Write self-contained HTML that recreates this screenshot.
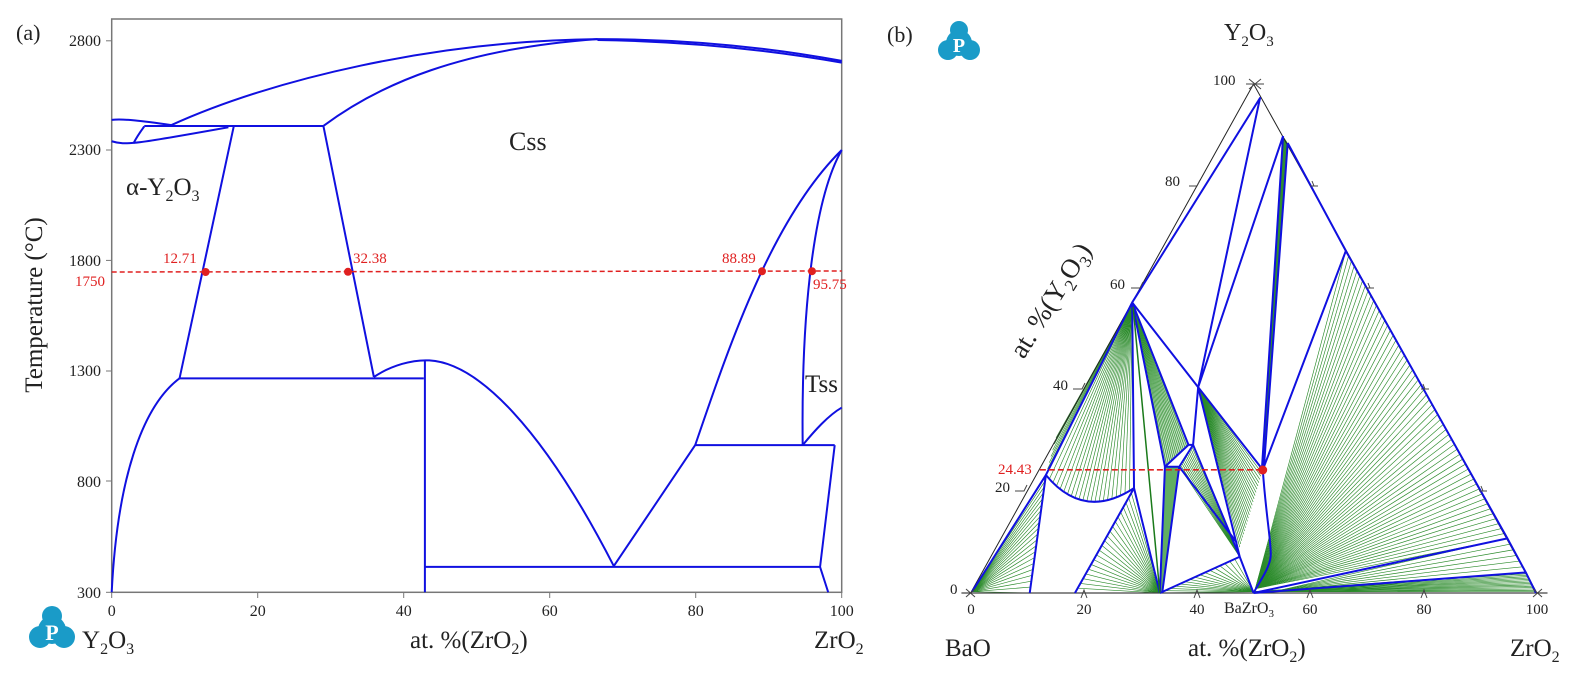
<!DOCTYPE html>
<html><head><meta charset="utf-8"><style>
html,body{margin:0;padding:0;background:#fff}
svg{display:block}
text{font-family:"Liberation Serif",serif}
.b{fill:none;stroke:#1010e0;stroke-width:2;vector-effect:non-scaling-stroke;stroke-linejoin:round}
.g{stroke:#2a8a2a;stroke-width:0.65;vector-effect:non-scaling-stroke}
</style></head><body>
<svg id="s" width="1590" height="686" viewBox="0 0 1590 686" xmlns="http://www.w3.org/2000/svg">
<!-- Panel (a) -->
<rect x="111.7" y="19" width="730" height="573.3" fill="none" stroke="#777" stroke-width="1.5"/>
<g stroke="#777" stroke-width="1">
<line x1="106" y1="40.8" x2="111.7" y2="40.8"/><line x1="106" y1="150" x2="111.7" y2="150"/>
<line x1="106" y1="260.4" x2="111.7" y2="260.4"/><line x1="106" y1="371" x2="111.7" y2="371"/>
<line x1="106" y1="481" x2="111.7" y2="481"/><line x1="106" y1="592.3" x2="111.7" y2="592.3"/>
<line x1="111.7" y1="592" x2="111.7" y2="598"/><line x1="257.7" y1="592" x2="257.7" y2="598"/>
<line x1="403.7" y1="592" x2="403.7" y2="598"/><line x1="549.7" y1="592" x2="549.7" y2="598"/>
<line x1="695.7" y1="592" x2="695.7" y2="598"/><line x1="841.7" y1="592" x2="841.7" y2="598"/>
</g>
<g font-size="16" fill="#222" text-anchor="end">
<text x="101" y="46">2800</text><text x="101" y="155">2300</text><text x="101" y="266">1800</text>
<text x="101" y="376">1300</text><text x="101" y="487">800</text><text x="101" y="598">300</text>
</g>
<g font-size="16" fill="#222" text-anchor="middle">
<text x="111.7" y="616">0</text><text x="257.7" y="616">20</text><text x="403.7" y="616">40</text>
<text x="549.7" y="616">60</text><text x="695.7" y="616">80</text><text x="841.7" y="616">100</text>
</g>
<g transform="matrix(0.5428 0 0 0.4366 0.43 0.66)">
<path class="b" d="M205,273 C225,270 260,275 315,285"/>
<path class="b" d="M205,322 C230,332 250,328 420,290"/>
<path class="b" d="M265,288 Q252,310 245,327"/>
<path class="b" d="M265,287 L595,287"/>
<path class="b" d="M315,285 C500,180 800,92 1100,88 C1300,88 1450,115 1550,138"/>
<path class="b" d="M595,287 C700,190 850,110 1100,88 M1100,90 C1300,94 1450,120 1550,142"/>
<path class="b" d="M430,287 L330,865 M595,287 L688,862 M330,865 L780,865"/>
<path class="b" d="M205,1355 C215,1100 260,930 330,865"/>
<path class="b" d="M782,825 L782,1355"/>
<path class="b" d="M688,862 C720,835 760,822 790,824 C880,830 1000,980 1130,1295 L1280,1018"/>
<path class="b" d="M782,1297 L1510,1297 M1510,1297 L1525,1355 M1510,1297 L1537,1018 M1280,1018 L1537,1018"/>
<path class="b" d="M1280,1018 C1340,800 1420,500 1550,342"/>
<path class="b" d="M1478,1018 C1475,700 1500,450 1550,342"/>
<path class="b" d="M1478,1018 C1500,985 1525,950 1550,932"/>
</g>
<line x1="111.7" y1="272" x2="841.7" y2="271" stroke="#e02020" stroke-width="1.5" stroke-dasharray="5,3"/>
<g fill="#e02020"><circle cx="205.6" cy="272" r="4"/><circle cx="348" cy="271.8" r="4"/><circle cx="762" cy="271.3" r="4"/><circle cx="812" cy="271.2" r="4"/></g>
<g font-size="15" fill="#e02020">
<text x="163" y="263">12.71</text><text x="353" y="263">32.38</text><text x="722" y="263">88.89</text>
<text x="813" y="289">95.75</text><text x="75" y="286">1750</text>
</g>
<text x="16" y="40" font-size="22" fill="#222">(a)</text>
<text transform="translate(42,305) rotate(-90)" font-size="25" fill="#222" text-anchor="middle">Temperature (°C)</text>
<text x="509" y="150" font-size="26" fill="#222">Css</text>
<text x="126" y="195" font-size="25" fill="#222">α-Y<tspan font-size="16" dy="6">2</tspan><tspan dy="-6">O</tspan><tspan font-size="16" dy="6">3</tspan></text>
<text x="805" y="392" font-size="25" fill="#222">Tss</text>
<text x="82" y="648" font-size="25" fill="#222">Y<tspan font-size="16" dy="6">2</tspan><tspan dy="-6">O</tspan><tspan font-size="16" dy="6">3</tspan></text>
<text x="410" y="648" font-size="25" fill="#222">at. %(ZrO<tspan font-size="16" dy="6">2</tspan><tspan dy="-6">)</tspan></text>
<text x="814" y="648" font-size="25" fill="#222">ZrO<tspan font-size="16" dy="6">2</tspan></text>
<!-- logos -->
<g fill="#1a9bc8">
<circle cx="52" cy="616" r="10"/><circle cx="40" cy="637" r="11"/><circle cx="64" cy="637" r="11"/><circle cx="52" cy="630" r="14"/>
<circle cx="959" cy="30" r="9"/><circle cx="948" cy="50" r="10"/><circle cx="970" cy="50" r="10"/><circle cx="959" cy="43" r="13"/>
</g>
<text x="52" y="640" font-size="22" font-weight="bold" fill="#fff" text-anchor="middle">P</text>
<text x="959" y="52" font-size="20" font-weight="bold" fill="#fff" text-anchor="middle">P</text>

<!-- Panel (b) -->
<text x="887" y="42" font-size="22" fill="#222">(b)</text>
<text x="1224" y="40" font-size="24" fill="#222">Y<tspan font-size="15" dy="6">2</tspan><tspan dy="-6">O</tspan><tspan font-size="15" dy="6">3</tspan></text>
<g id="tern" transform="matrix(0.4615 0 0 0.4369 862.2 1.0)">
<g id="fans"></g>
<polygon points="656,1066 687,1066 650,1355 645,1355" fill="#3a9a3a" opacity="0.8"/>
<polygon points="912,309 922,325 870,1073 866,1073" fill="#2f8f2f"/>
<polygon points="707,1016 587,700 656,1066" fill="#3a9a3a" opacity="0.3"/>
<path d="M235,1355 L848,190 L1462,1355 Z" fill="none" stroke="#222" stroke-width="1" vector-effect="non-scaling-stroke"/>
<line x1="215" y1="1355" x2="1485" y2="1355" stroke="#444" stroke-width="1.2" vector-effect="non-scaling-stroke"/>
<path class="b" d="M585,690 L862,222 L728,884 M912,309 L728,884 M912,309 L866,1073 M922,325 L870,1073"/>
<path class="b" d="M922,325 L1048,572 L1398,1230 L1438,1308 L1460,1355"/>
<path class="b" d="M1048,572 L868,1073 M585,690 L728,884 L868,1073"/>
<path class="b" d="M585,690 L707,1016 M585,690 L656,1066 M585,690 L589,1115 L645,1355 M585,690 L398,1085"/>
<path class="b" d="M238,1352 L398,1085 L363,1355 M398,1085 Q480,1190 589,1115 M461,1355 L589,1115"/>
<path class="b" d="M728,884 L717,1016 L707,1016 L656,1066 L687,1066 L717,1016 L818,1272 M687,1066 L650,1355 M656,1066 L645,1355 M687,1066 L812,1240"/>
<path class="b" d="M728,884 L818,1272 M645,1355 L818,1272 L848,1355"/>
<path class="b" d="M868,1073 C875,1180 888,1250 885,1272 C882,1300 860,1330 848,1355"/>
<path class="b" d="M848,1355 L1398,1230 M848,1355 L1438,1308"/>
<path d="M587,700 L645,1355" stroke="#1a7a1a" stroke-width="1.5" vector-effect="non-scaling-stroke"/>
<line x1="385" y1="1073" x2="868" y2="1073" stroke="#e02020" stroke-width="1.6" stroke-dasharray="6,3" vector-effect="non-scaling-stroke"/>
</g>
<circle cx="1262.7" cy="470" r="4.5" fill="#e02020"/>
<text x="998" y="474" font-size="15" fill="#e02020">24.43</text>
<g font-size="15" fill="#222">
<text x="1213" y="85">100</text><text x="1165" y="186">80</text><text x="1110" y="289">60</text>
<text x="1053" y="390">40</text><text x="995" y="492">20</text><text x="950" y="594">0</text>
</g>
<g stroke="#444" stroke-width="1" fill="none">
<path d="M1246,84 L1264,84 M1249,79 L1261,89 M1249,89 L1261,79"/>
<path d="M1189,186 L1197,186 L1200,180"/><path d="M1131,288 L1140,288 L1143,282"/>
<path d="M1073,389 L1082,389 L1085,383"/><path d="M1015,491 L1024,491 L1027,485"/>
<path d="M1310,186 L1318,186 M1312,181 L1314,186"/><path d="M1366,288 L1374,288 M1368,283 L1370,288"/>
<path d="M1421,389 L1429,389 M1423,384 L1425,389"/><path d="M1479,491 L1487,491 M1481,486 L1483,491"/>
<path d="M966,589 L975,597 M966,597 L975,589"/><path d="M1533,589 L1542,597 M1533,597 L1542,589"/>
<path d="M1081,598 L1084,590 L1087,598 M1194,598 L1197,590 L1200,598 M1307,598 L1310,590 L1313,598 M1421,598 L1424,590 L1427,598"/>
</g>
<g font-size="15" fill="#222" text-anchor="middle">
<text x="971" y="614">0</text><text x="1084" y="614">20</text><text x="1197" y="614">40</text>
<text x="1310" y="614">60</text><text x="1424" y="614">80</text><text x="1537" y="614">100</text>
</g>
<text x="1224" y="613" font-size="16" fill="#222">BaZrO<tspan font-size="11" dy="4">3</tspan></text>
<text transform="translate(1058,305) rotate(-58)" font-size="27" fill="#222" text-anchor="middle">at. %(Y<tspan font-size="17" dy="6">2</tspan><tspan dy="-6">O</tspan><tspan font-size="17" dy="6">3</tspan><tspan dy="-6">)</tspan></text>
<text x="945" y="656" font-size="25" fill="#222">BaO</text>
<text x="1188" y="656" font-size="25" fill="#222">at. %(ZrO<tspan font-size="16" dy="6">2</tspan><tspan dy="-6">)</tspan></text>
<text x="1510" y="656" font-size="25" fill="#222">ZrO<tspan font-size="16" dy="6">2</tspan></text>
</svg>
<script>
(function(){
var g=document.getElementById('fans'),ns='http://www.w3.org/2000/svg';
function ln(a,b){var l=document.createElementNS(ns,'line');l.setAttribute('x1',a[0]);l.setAttribute('y1',a[1]);l.setAttribute('x2',b[0]);l.setAttribute('y2',b[1]);l.setAttribute('class','g');g.appendChild(l);}
function fan(o,p,q,n){for(var i=0;i<=n;i++){var t=i/n;ln(o,[p[0]+(q[0]-p[0])*t,p[1]+(q[1]-p[1])*t]);}}
fan([238,1352],[398,1085],[363,1355],20);
for(var i=0;i<=22;i++){var t=i/22,x=(1-t)*(1-t)*398+2*t*(1-t)*480+t*t*589,y=(1-t)*(1-t)*1085+2*t*(1-t)*1190+t*t*1115;ln([585,690],[x,y]);}
fan([585,690],[420,1000],[398,1085],6);
fan([645,1355],[461,1355],[589,1115],22);
fan([585,690],[707,1016],[656,1066],14);
fan([818,1272],[717,1016],[687,1066],12);
fan([728,884],[868,1073],[818,1250],24);
fan([848,1352],[645,1355],[818,1272],16);
fan([852,1345],[1048,572],[1398,1230],58);
fan([848,1352],[1438,1308],[1460,1352],14);
fan([900,1350],[1398,1230],[1438,1308],6);
})();
</script>
</body></html>
